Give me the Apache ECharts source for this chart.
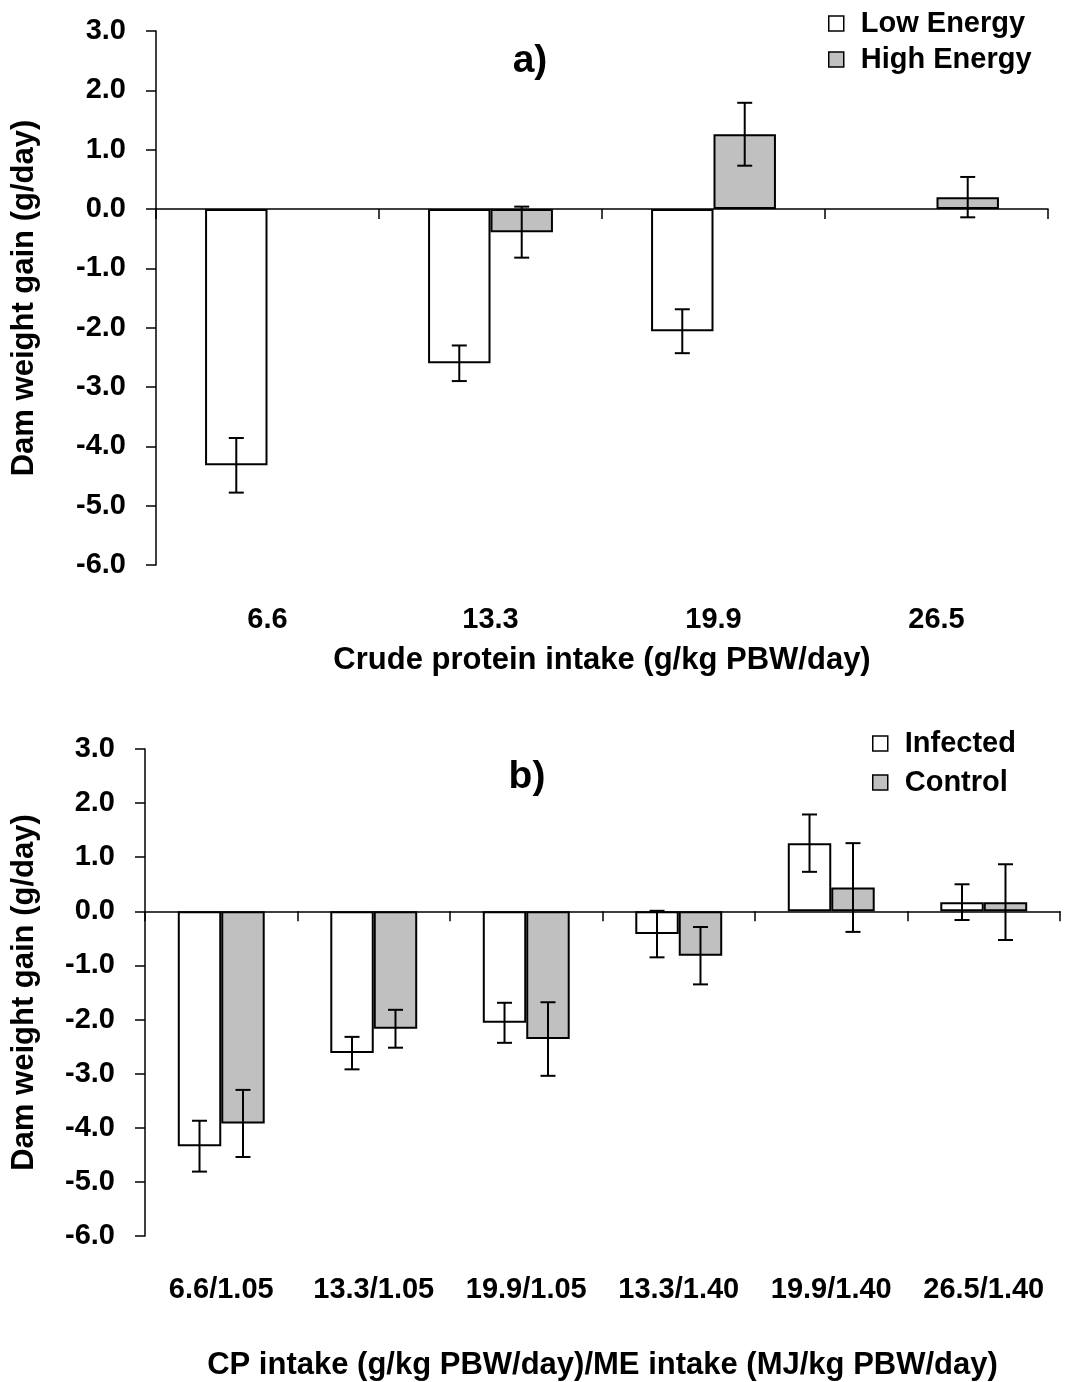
<!DOCTYPE html>
<html>
<head>
<meta charset="utf-8">
<script src="https://cdn.jsdelivr.net/npm/echarts@6/dist/echarts.min.js"></script>
<style>
html,body{margin:0;padding:0;background:#fff;}
#chart{width:1065px;height:1382px;}
</style>
</head>
<body>
<div id="chart"></div>
<script>
// ---------- Data ----------
var catsA = ['6.6', '13.3', '19.9', '26.5'];
var lowEnergy = [-4.32, -2.60, -2.06, null];
var lowEnergyErr = [0.46, 0.30, 0.37, null];
var highEnergy = [null, -0.39, 1.26, 0.20];
var highEnergyErr = [null, 0.43, 0.53, 0.34];

var catsB = ['6.6/1.05', '13.3/1.05', '19.9/1.05', '13.3/1.40', '19.9/1.40', '26.5/1.40'];
var infected = [-4.34, -2.62, -2.06, -0.42, 1.26, 0.17];
var infectedErr = [0.47, 0.30, 0.37, 0.43, 0.53, 0.33];
var control = [-3.92, -2.17, -2.36, -0.82, 0.44, 0.17];
var controlErr = [0.62, 0.35, 0.68, 0.53, 0.82, 0.70];

var yTicksMin = -6, yTicksMax = 3, yTickStep = 1;

// ---------- Helpers ----------
var FONT = 'Liberation Sans, Arial, Helvetica, sans-serif';
var GAP_A = 0.44, GAP_B = 0.43;

function errData(vals, errs) {
  var out = [];
  for (var i = 0; i < vals.length; i++) {
    if (vals[i] == null || errs[i] == null) continue;
    out.push([i, vals[i] - errs[i], vals[i] + errs[i]]);
  }
  return out;
}

function makeErr(offsetFrac) {
  return function (params, api) {
    var x = api.value(0);
    var p1 = api.coord([x, api.value(2)]);
    var p2 = api.coord([x, api.value(1)]);
    var w = api.size([1, 0])[0];
    var cx = p1[0] + offsetFrac * w;
    var cap = 7.5;
    var st = { stroke: '#000', lineWidth: 2 };
    return {
      type: 'group',
      children: [
        { type: 'line', shape: { x1: cx, y1: p1[1], x2: cx, y2: p2[1] }, style: st },
        { type: 'line', shape: { x1: cx - cap, y1: p1[1], x2: cx + cap, y2: p1[1] }, style: st },
        { type: 'line', shape: { x1: cx - cap, y1: p2[1], x2: cx + cap, y2: p2[1] }, style: st }
      ]
    };
  };
}

function yAxisCfg(gridIndex, nameGap) {
  return {
    type: 'value', gridIndex: gridIndex,
    min: yTicksMin, max: yTicksMax, interval: yTickStep,
    name: 'Dam weight gain (g/day)', nameLocation: 'middle', nameGap: nameGap,
    nameTextStyle: { fontFamily: FONT, fontWeight: 'bold', fontSize: 31, color: '#000' },
    axisLine: { show: true, onZero: false, lineStyle: { color: '#000', width: 1.5 } },
    axisTick: { show: true, length: 10, lineStyle: { color: '#000', width: 1.5 } },
    axisLabel: { margin: 30, fontFamily: FONT, fontWeight: 'bold', fontSize: 29, color: '#000',
      formatter: function (v) { return v.toFixed(1); } },
    splitLine: { show: false }
  };
}

function labelXAxis(gridIndex, cats, name, labelMargin, nameGap) {
  return {
    type: 'category', gridIndex: gridIndex, data: cats, position: 'bottom',
    name: name, nameLocation: 'middle', nameGap: nameGap,
    nameTextStyle: { fontFamily: FONT, fontWeight: 'bold', fontSize: 31, color: '#000' },
    axisLine: { show: false, onZero: false },
    axisTick: { show: false },
    axisLabel: { margin: labelMargin, fontFamily: FONT, fontWeight: 'bold', fontSize: 29, color: '#000', interval: 0 }
  };
}

function zeroXAxis(gridIndex, cats) {
  return {
    type: 'category', gridIndex: gridIndex, data: cats, position: 'top',
    axisLine: { show: true, onZero: true, lineStyle: { color: '#000', width: 1.5 } },
    axisTick: { show: true, inside: true, length: 10, lineStyle: { color: '#000', width: 1.5 } },
    axisLabel: { show: false }
  };
}

function barSeries(name, data, xi, yi, fill, gap) {
  return {
    type: 'bar', name: name, data: data, xAxisIndex: xi, yAxisIndex: yi,
    barGap: '0%', barCategoryGap: (gap * 100) + '%',
    itemStyle: { color: fill, borderColor: '#000', borderWidth: 2 },
    emphasis: { disabled: true }, animation: false
  };
}

function errSeries(data, xi, yi, offsetFrac) {
  return {
    type: 'custom', data: data, xAxisIndex: xi, yAxisIndex: yi,
    renderItem: makeErr(offsetFrac), z: 10, animation: false, silent: true
  };
}

var offA = (1 - GAP_A) / 4, offB = (1 - GAP_B) / 4;

var legendText = { fontFamily: FONT, fontWeight: 'bold', fontSize: 29, color: '#000', lineHeight: 29, padding: [0, 0, 0, 12] };

var option = {
  backgroundColor: '#fff',
  animation: false,
  grid: [
    { left: 156, top: 31, width: 892, height: 534 },
    { left: 145, top: 749, width: 915, height: 488 }
  ],
  xAxis: [
    labelXAxis(0, catsA, 'Crude protein intake (g/kg PBW/day)', 40, 80),
    zeroXAxis(0, catsA),
    labelXAxis(1, catsB, 'CP intake (g/kg PBW/day)/ME intake (MJ/kg PBW/day)', 39, 114),
    zeroXAxis(1, catsB)
  ],
  yAxis: [yAxisCfg(0, 116), yAxisCfg(1, 105)],
  legend: [
    { data: ['Low Energy', 'High Energy'], orient: 'vertical', left: 828, top: 9, padding: 0,
      itemWidth: 15, itemHeight: 15, itemGap: 7, icon: 'rect', selectedMode: false,
      itemStyle: { borderColor: '#000', borderWidth: 1.5 }, textStyle: legendText },
    { data: ['Infected', 'Control'], orient: 'vertical', left: 872, top: 729, padding: 0,
      itemWidth: 15, itemHeight: 15, itemGap: 10, icon: 'rect', selectedMode: false,
      itemStyle: { borderColor: '#000', borderWidth: 1.5 }, textStyle: legendText }
  ],
  graphic: [
    { type: 'text', x: 530, y: 61, style: { text: 'a)', font: 'bold 39px ' + FONT, fill: '#000', textAlign: 'center', textVerticalAlign: 'middle' } },
    { type: 'text', x: 527, y: 777, style: { text: 'b)', font: 'bold 39px ' + FONT, fill: '#000', textAlign: 'center', textVerticalAlign: 'middle' } }
  ],
  series: [
    barSeries('Low Energy', lowEnergy, 0, 0, '#ffffff', GAP_A),
    barSeries('High Energy', highEnergy, 0, 0, '#c0c0c0', GAP_A),
    errSeries(errData(lowEnergy, lowEnergyErr), 0, 0, -offA),
    errSeries(errData(highEnergy, highEnergyErr), 0, 0, offA),
    barSeries('Infected', infected, 2, 1, '#ffffff', GAP_B),
    barSeries('Control', control, 2, 1, '#c0c0c0', GAP_B),
    errSeries(errData(infected, infectedErr), 2, 1, -offB),
    errSeries(errData(control, controlErr), 2, 1, offB)
  ]
};

var chart = echarts.init(document.getElementById('chart'), null, { renderer: 'canvas' });
chart.setOption(option);
</script>
</body>
</html>
